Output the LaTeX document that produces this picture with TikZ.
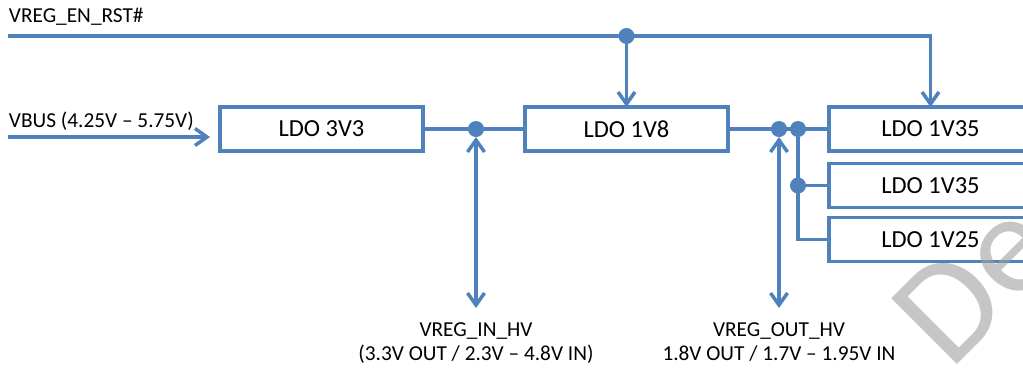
\documentclass[tikz,border=0pt]{standalone}
\usepackage{fontspec}
\setmainfont{Carlito}
\usetikzlibrary{positioning,arrows.meta}
\definecolor{ldoblue}{HTML}{4F81BD}
\definecolor{wmgray}{HTML}{A0A0A0}

\begin{document}
\begin{tikzpicture}
[x=1pt,y=-1pt,
 every node/.style={inner sep=0pt,outer sep=0pt},
 ldo/.style={rectangle,draw=ldoblue,line width=3.5pt,minimum width=203pt,minimum height=44pt,font=\fontsize{24.5}{29}\selectfont},
 dot/.style={circle,fill=ldoblue,minimum size=16pt},
 lbl/.style={font=\fontsize{21.3}{24}\selectfont},
 link/.style={draw=ldoblue,line width=3.5pt},
 wm/.style={text=wmgray,opacity=0.6,font=\fontsize{145}{150}\selectfont},
 >={Straight Barb[length=12pt,width=17pt]}]
\useasboundingbox (0,0) rectangle (1023,368);
\clip (0,0) rectangle (1023,368);

\node[ldo] (ldo3)    at (321.5,129)                       {LDO 3V3};
\node[ldo] (ldo18)   [on grid,right=305pt of ldo3]        {LDO 1V8};
\node[ldo] (ldo135a) [on grid,right=304pt of ldo18]       {LDO 1V35};
\node[ldo] (ldo135b) [on grid,below=56.5pt of ldo135a]    {LDO 1V35};
\node[ldo] (ldo125)  [on grid,below=54pt of ldo135b]      {LDO 1V25};
\node[dot] (jin)     [on grid,right=154.5pt of ldo3]      {};
\node[dot] (jout)    [on grid,right=152.5pt of ldo18]     {};
\node[dot] (jsplit)  [on grid,right=19pt of jout]         {};
\node[dot] (jsplit2) at (jsplit |- ldo135b)               {};
\node[dot] (jen)     [on grid,above=93pt of ldo18]        {};

\coordinate (enL)  at (8,36);
\coordinate (busL) at (8,137);
\coordinate[on grid,below=179pt of jin]  (inEnd);
\coordinate[on grid,below=179pt of jout] (outEnd);

\node[lbl,anchor=base west] (enlbl)  at (9,22.5) {VREG\_EN\_RST\#};
\node[lbl,anchor=base west] (buslbl) at (9,127)  {VBUS (4.25V – 5.75V)};
\node[lbl,align=center,anchor=north] (inlbl)  [below=15pt of inEnd]  {VREG\_IN\_HV\\(3.3V OUT / 2.3V – 4.8V IN)};
\node[lbl,align=center,anchor=north] (outlbl) [below=15pt of outEnd] {VREG\_OUT\_HV\\1.8V OUT / 1.7V – 1.95V IN};

\draw[link,->] (enL) -| (ldo135a.north);
\draw[link,->] (jen) -- (ldo18.north);
\draw[link,->] (busL) -- ([xshift=-10pt]busL -| ldo3.west);
\draw[link]    (ldo3) -- (ldo18);
\draw[link]    (ldo18) -- (ldo135a);
\draw[link,<->] (jin) -- (inEnd);
\draw[link,<->] (jout) -- (outEnd);
\draw[link]    (jsplit) |- (ldo125);
\draw[link]    (jsplit2) -- (ldo135b);

% watermark, cut by the clip
\node[wm,rotate=45,anchor=base west] (wmark) at (950,371) {De};
\end{tikzpicture}
\end{document}
